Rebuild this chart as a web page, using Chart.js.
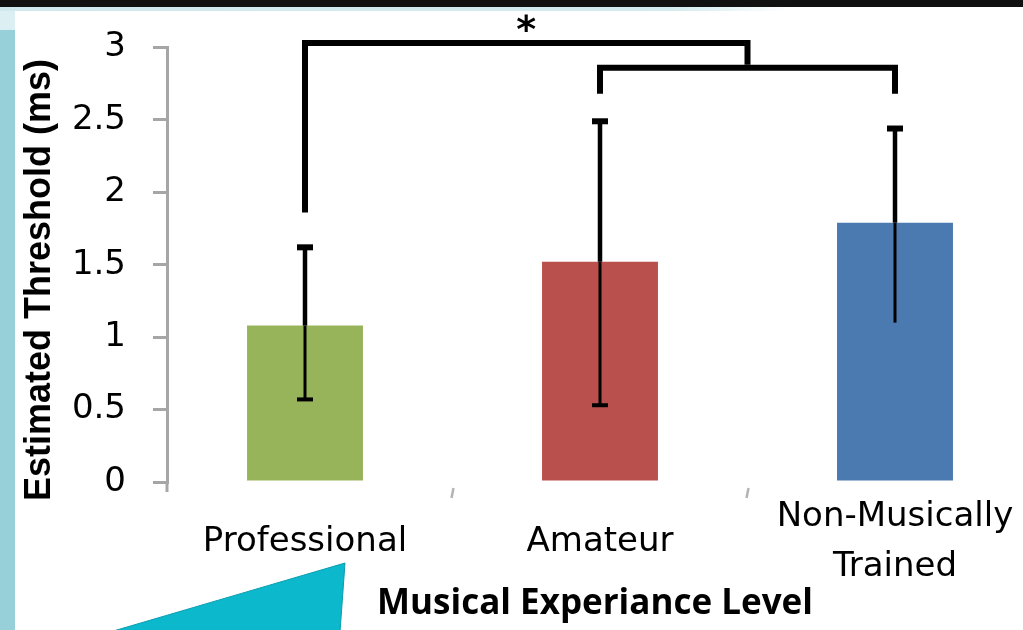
<!DOCTYPE html>
<html>
<head>
<meta charset="utf-8">
<script src="https://cdn.jsdelivr.net/npm/chart.js@4.4.1/dist/chart.umd.min.js"></script>
<style>
  html, body { margin: 0; padding: 0; background: #fff; overflow: hidden; }
  #wrap { position: relative; width: 1023px; height: 630px; }
  .topbar { position: absolute; left: 0; top: 0; width: 1023px; height: 7px; background: #111; }
  .topband { position: absolute; left: 0; top: 7px; width: 790px; height: 4px;
             background: linear-gradient(90deg, #cfe9ee 0%, #d3ecf0 85%, rgba(211,236,240,0) 100%); }
  .stripTop { position: absolute; left: 0; top: 11px; width: 15px; height: 19px; background: #dcf0f3; }
  .strip { position: absolute; left: 0; top: 30px; width: 15px; height: 600px; background: #98d0da; }
  .deco { position: absolute; left: 0; top: 0; }
  canvas { position: absolute; left: 0; top: 0; }
</style>
</head>
<body>
<div id="wrap">
  <div class="topbar"></div>
  <div class="topband"></div>
  <div class="stripTop"></div>
  <div class="strip"></div>
  <svg class="deco" width="1023" height="630">
    <polygon points="110,632 345,563 340,632" fill="#0bb8cc" stroke="#0a9db0" stroke-width="1"/>
  </svg>
  <canvas id="c" width="1023" height="630"></canvas>
</div>
<script>
// Threshold by musical experience level
const categories = ['Professional', 'Amateur', ['Non-Musically', 'Trained']];
const thresholds = [1.08, 1.52, 1.79];
const errUpper = [1.62, 2.49, 2.44];
const errLower = [0.57, 0.53, 1.10];
const yTickLabels = ['0', '0.5', '1', '1.5', '2', '2.5', '3'];

// significance brackets (x in category positions, y in ms)
const bracketSpans = [[0, 1.5], [1, 2]];
const bracketLevels = [3.03, 2.86];
const bracketLegEnds = [[1.86, 2.88], [2.68, 2.68]];
const bracketMarks = ['*', ''];
const markLevel = 3.17;

const barColors = ['#97b45a', '#b9504d', '#4a7ab0'];

const errorBarPlugin = {
  id: 'errorBars',
  afterDatasetsDraw(chart, args, opts) {
    const { ctx } = chart;
    const y = chart.scales.y;
    const meta = chart.getDatasetMeta(0);
    ctx.save();
    ctx.strokeStyle = '#000';
    ctx.lineCap = 'butt';
    meta.data.forEach((bar, i) => {
      const x = bar.x;
      const yHi = y.getPixelForValue(errUpper[i]);
      const yLo = y.getPixelForValue(errLower[i]);
      const yTop = bar.y;
      // stem above bar top
      ctx.lineWidth = 4.5;
      ctx.beginPath(); ctx.moveTo(x, yHi); ctx.lineTo(x, yTop); ctx.stroke();
      // stem inside bar
      ctx.lineWidth = 3;
      ctx.beginPath(); ctx.moveTo(x, yTop); ctx.lineTo(x, yLo); ctx.stroke();
      // caps
      ctx.lineWidth = 6;
      ctx.beginPath(); ctx.moveTo(x - 8, yHi); ctx.lineTo(x + 8, yHi); ctx.stroke();
      if (opts.lowerCap[i]) {
        ctx.lineWidth = 4;
        ctx.beginPath(); ctx.moveTo(x - 8, yLo); ctx.lineTo(x + 8, yLo); ctx.stroke();
      }
    });
    ctx.restore();
  }
};

// small marks between categories and the axis stub below zero
const axisMarksPlugin = {
  id: 'axisMarks',
  afterDraw(chart) {
    const { ctx, chartArea } = chart;
    const xs = chart.scales.x;
    ctx.save();
    ctx.strokeStyle = '#b4b4b4';
    ctx.lineWidth = 2.5;
    for (let k = 0.5; k < categories.length - 1; k += 1) {
      const x = xs.getPixelForValue(k);
      ctx.beginPath();
      ctx.moveTo(x - 1, chartArea.bottom + 16);
      ctx.lineTo(x + 1, chartArea.bottom + 6);
      ctx.stroke();
    }
    ctx.strokeStyle = '#a6a6a6';
    ctx.lineWidth = 3;
    ctx.beginPath();
    ctx.moveTo(chartArea.left, chartArea.bottom);
    ctx.lineTo(chartArea.left, chartArea.bottom + 10);
    ctx.stroke();
    ctx.restore();
  }
};

const bracketPlugin = {
  id: 'brackets',
  afterDraw(chart) {
    const { ctx } = chart;
    const xs = chart.scales.x, ys = chart.scales.y;
    ctx.save();
    ctx.strokeStyle = '#000';
    ctx.lineWidth = 6;
    ctx.lineJoin = 'miter';
    ctx.lineCap = 'butt';
    bracketSpans.forEach((span, i) => {
      const x0 = xs.getPixelForValue(span[0]);
      const x1 = xs.getPixelForValue(span[1]);
      const yl = ys.getPixelForValue(bracketLevels[i]);
      const y0 = ys.getPixelForValue(bracketLegEnds[i][0]);
      const y1 = ys.getPixelForValue(bracketLegEnds[i][1]);
      ctx.beginPath();
      ctx.moveTo(x0, y0);
      ctx.lineTo(x0, yl);
      ctx.lineTo(x1, yl);
      ctx.lineTo(x1, y1);
      ctx.stroke();
      if (bracketMarks[i]) {
        ctx.font = 'bold 38px "DejaVu Sans"';
        ctx.fillStyle = '#000';
        ctx.textAlign = 'center';
        ctx.textBaseline = 'alphabetic';
        const m = ctx.measureText(bracketMarks[i]);
        const cy = ys.getPixelForValue(markLevel);
        const base = cy + (m.actualBoundingBoxAscent - m.actualBoundingBoxDescent) / 2;
        ctx.fillText(bracketMarks[i], (x0 + x1) / 2, base);
      }
    });
    ctx.restore();
  }
};

const yTitlePlugin = {
  id: 'yTitle',
  afterDraw(chart, args, opts) {
    const { ctx } = chart;
    ctx.save();
    ctx.translate(opts.x, opts.y);
    ctx.rotate(-Math.PI / 2);
    ctx.font = 'bold 36px "Liberation Sans"';
    ctx.fillStyle = '#000';
    ctx.textAlign = 'center';
    ctx.textBaseline = 'middle';
    ctx.fillText(opts.text, 0, 0);
    ctx.restore();
  }
};

new Chart(document.getElementById('c'), {
  type: 'bar',
  data: {
    datasets: [{
      data: thresholds.map((v, i) => ({ x: i, y: v })),
      backgroundColor: barColors,
      borderWidth: 0,
      categoryPercentage: 1,
      barPercentage: 0.393
    }]
  },
  options: {
    responsive: false,
    animation: false,
    devicePixelRatio: 1,
    layout: { padding: { top: 43, left: 0, right: 0, bottom: 0 } },
    plugins: {
      legend: { display: false },
      tooltip: { enabled: false },
      errorBars: { lowerCap: [true, true, false] },
      yTitle: { text: 'Estimated Threshold (ms)', x: 40, y: 280 }
    },
    scales: {
      x: {
        type: 'linear',
        offset: false,
        min: -0.4678,
        max: 2.4339,
        afterFit: s => { s.height = 148; s.paddingLeft = 0; s.paddingRight = 0; },
        afterBuildTicks: s => {
          s.ticks = s.ticks.filter(t => Number.isInteger(t.value) && t.value >= 0 && t.value < categories.length);
        },
        grid: { display: false },
        border: { display: false },
        ticks: {
          stepSize: 1,
          includeBounds: false,
          autoSkip: false,
          maxRotation: 0,
          crossAlign: 'center',
          padding: 27,
          color: '#000',
          font: { family: 'DejaVu Sans', size: 34, lineHeight: 1.47 },
          callback: v => categories[v]
        },
        title: {
          display: true,
          text: 'Musical Experiance Level',
          color: '#000',
          font: { family: 'Open Sans', weight: 'bold', size: 35, lineHeight: 1.2 },
          padding: { top: 0, bottom: 5 }
        }
      },
      y: {
        min: 0,
        max: 3,
        afterFit: s => { s.width = 167; },
        grid: {
          drawOnChartArea: false,
          drawTicks: true,
          tickLength: 14,
          color: '#a6a6a6',
          lineWidth: 3
        },
        border: { display: true, color: '#a6a6a6', width: 3 },
        ticks: {
          stepSize: 0.5,
          padding: 27,
          color: '#000',
          font: { family: 'DejaVu Sans', size: 34 },
          callback: (v, i) => yTickLabels[i]
        }
      }
    }
  },
  plugins: [errorBarPlugin, axisMarksPlugin, bracketPlugin, yTitlePlugin]
});
</script>
</body>
</html>
